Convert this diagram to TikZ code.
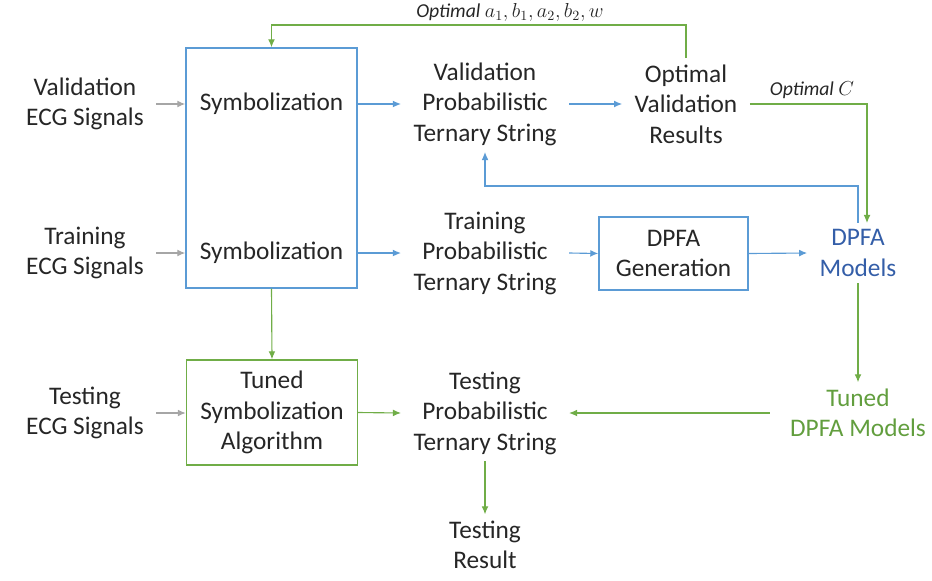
\documentclass[tikz,border=0pt]{standalone}
\usepackage{fontspec}
\setmainfont{Carlito}
\usetikzlibrary{arrows.meta}
\definecolor{lineblue}{RGB}{91,155,213}
\definecolor{linegreen}{RGB}{112,173,71}
\definecolor{linegray}{RGB}{166,166,166}
\definecolor{textblue}{RGB}{52,94,168}
\definecolor{textgreen}{RGB}{98,158,62}

\begin{document}
\begin{tikzpicture}[x=0.025cm, y=-0.025cm,
  font=\fontsize{18}{21.7}\selectfont, line width=0.8pt,
  txt/.style={align=center, text=black!85, inner xsep=0.3cm, inner ysep=0.15cm},
  box/.style={draw, line width=1pt, align=center, text=black!85},
  arr/.style={-{Latex[length=2mm,width=1.7mm]}},
  small/.style={font=\fontsize{14}{16}\selectfont, text=black!85}]

\useasboundingbox (0,0) rectangle (932,580);

% ============================================================
%  Inputs (left column)
% ============================================================
\node[txt] (vin)  at (85,104) {Validation\\ECG Signals};
\node[txt] (trin) at (85,253) {Training\\ECG Signals};
\node[txt] (tein) at (85,413) {Testing\\ECG Signals};

% ---- symbolization block: one box, two labels ----
% box: (186,48) to (357,288)
\node[box, draw=lineblue, minimum width=4.275cm, minimum height=6cm] (symb) at (271.5,168) {};
\node[txt] (sym1) at (271.5,104) {Symbolization};
\node[txt] (sym2) at (271.5,253) {Symbolization};

% box: (187,360) to (357,465)
\node[box, draw=linegreen, minimum width=4.275cm, minimum height=2.625cm] (tuned) at (272,412.5)
  {Tuned\\Symbolization\\Algorithm};

% ============================================================
%  Ternary strings, results, models
% ============================================================
\node[txt] (valstr) at (485,104) {Validation\\Probabilistic\\Ternary String};
\node[txt] (optres) at (686,104) {Optimal\\Validation\\Results};
\node[txt] (trstr)  at (485,253) {Training\\Probabilistic\\Ternary String};
\node[box, draw=lineblue, minimum width=3.725cm, minimum height=1.825cm] (gen) at (673.5,253.5)
  {DPFA\\Generation};
\node[txt, text=textblue] (models) at (858,253) {DPFA\\Models};
\node[txt] (testr)  at (485,413) {Testing\\Probabilistic\\Ternary String};
\node[txt, text=textgreen] (tmodels) at (858,413) {Tuned\\DPFA Models};
\node[txt] (result) at (485,545) {Testing\\Result};

% ---- small labels on the feedback lines ----
\node[small] (lblab) at (510,12) {\textit{Optimal} $a_1, b_1, a_2, b_2, w$};
\node[small] (lblc)  at (812,90) {\textit{Optimal} $C$};

% ============================================================
%  Connectors
% ============================================================
\draw[arr, linegray] (vin.east)  -- (vin.east -| symb.west);
\draw[arr, linegray] (trin.east) -- (trin.east -| symb.west);
\draw[arr, linegray] (tein.east) -- (tein.east -| tuned.west);

\draw[arr, lineblue] (sym1 -| symb.east) -- (valstr.west);
\draw[arr, lineblue] (sym2 -| symb.east) -- (trstr.west);
\draw[arr, lineblue] (valstr.east) -- (optres.west);
\draw[arr, lineblue] (trstr.east) -- (gen.west);
\draw[arr, lineblue] (gen.east) -- (models.west);

\draw[arr, linegreen] (symb.south) -- (tuned.north);
\draw[arr, linegreen] (tuned.east) -- (testr.west);
\draw[arr, linegreen] (testr.south) -- (result.north);
\draw[arr, linegreen] (models.south) -- (tmodels.north);
\draw[arr, linegreen] ([xshift=-0.2cm]tmodels.west) -- (testr.east);

% feedback lines: y = 25 (top), y = 186 (middle)
\coordinate (topy) at (0,25);
\coordinate (fby)  at (0,186);
\draw[arr, linegreen] (optres.north) |- (symb.north |- topy) -- (symb.north);
\draw[arr, linegreen] (optres.east) -| ([xshift=0.225cm]models.north);
\draw[arr, lineblue] (models.north) |- (valstr.south |- fby) -- (valstr.south);

\end{tikzpicture}
\end{document}
